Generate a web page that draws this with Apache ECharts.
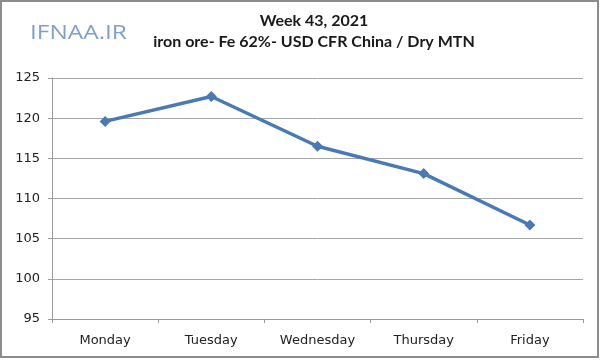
<!DOCTYPE html>
<html><head><meta charset="utf-8">
<script src="https://cdn.jsdelivr.net/npm/echarts@6/dist/echarts.min.js"></script>
<style>html,body{margin:0;padding:0;background:#fff}#c{width:600px;height:360px}</style>
</head><body><div id="c"></div>
<script>
const categories = ['Monday', 'Tuesday', 'Wednesday', 'Thursday', 'Friday'];
const prices = [119.6, 122.7, 116.5, 113.1, 106.7];
const yTicks = [95, 100, 105, 110, 115, 120, 125];
const titleText = 'Week 43, 2021';
const subtitleText = 'iron ore- Fe 62%- USD CFR China / Dry MTN';
const watermark = 'IFNAA.IR';

const chart = echarts.init(document.getElementById('c'), null, {renderer: 'canvas'});
chart.setOption({
  animation: false,
  backgroundColor: '#fff',
  grid: {left: 52, top: 78, right: 17, bottom: 41, containLabel: false},
  graphic: [
    {type: 'rect', shape: {x: 1, y: 1, width: 597, height: 356}, style: {fill: 'none', stroke: '#8c8c8c', lineWidth: 2}},
    {type: 'text', x: 30, y: 33, scaleX: 1.22, style: {text: watermark, font: '20px "Open Sans", sans-serif', fill: '#7f9fd0', verticalAlign: 'middle'}},
    {type: 'text', x: 314, y: 21, style: {text: titleText, font: 'bold 16px Lato, sans-serif', fill: '#1a1a1a', align: 'center', verticalAlign: 'middle'}},
    {type: 'text', x: 314, y: 42, style: {text: subtitleText, font: 'bold 16px Lato, sans-serif', fill: '#1a1a1a', align: 'center', verticalAlign: 'middle'}}
  ],
  xAxis: {
    type: 'category', data: categories, boundaryGap: true,
    axisLine: {lineStyle: {color: '#9a9a9a', width: 1}},
    axisTick: {show: true, length: 4, lineStyle: {color: '#9a9a9a'}},
    axisLabel: {color: '#222', fontSize: 13, fontFamily: '"DejaVu Sans", sans-serif', margin: 15},
    splitLine: {show: false}
  },
  yAxis: {
    type: 'value', min: yTicks[0], max: yTicks[yTicks.length - 1], interval: 5,
    axisLine: {show: true, lineStyle: {color: '#9a9a9a', width: 1}},
    axisTick: {show: true, length: 4, lineStyle: {color: '#9a9a9a'}},
    axisLabel: {color: '#222', fontSize: 13, fontFamily: '"DejaVu Sans", sans-serif', margin: 12},
    splitLine: {show: true, lineStyle: {color: '#a6a6a6', width: 1}}
  },
  series: [{
    type: 'line', data: prices,
    symbol: 'diamond', symbolSize: 11,
    lineStyle: {color: '#4a7ab5', width: 3.5},
    itemStyle: {color: '#4a7ab5'}
  }]
});
</script></body></html>
